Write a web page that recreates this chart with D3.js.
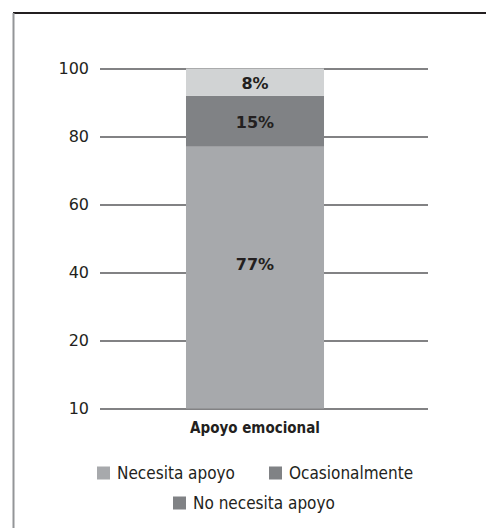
<!DOCTYPE html>
<html><head><meta charset="utf-8">
<script src="https://cdn.jsdelivr.net/npm/d3@7"></script>
<style>body{margin:0;background:#fff}svg{display:block}</style>
</head><body><svg id="c" width="486" height="528"></svg>
<script>
const categories = ["Apoyo emocional"];
const seriesNames = ["Necesita apoyo", "Ocasionalmente", "No necesita apoyo"];
const necesita = [77];
const ocasional = [15];
const noNecesita = [8];
const tickValues = [0, 20, 40, 60, 80, 100];
const tickLabels = ["10", "20", "40", "60", "80", "100"];
const segColors = ["#a7a9ac", "#808285", "#d1d3d4"];
const legendColors = ["#a7a9ac", "#808285", "#808285"];

const svg = d3.select("#c");
const txt = "#231f20";
const fontR = "'DejaVu Sans', sans-serif";
const fontN = "'DejaVu Sans Condensed', 'Liberation Sans Narrow', sans-serif";

svg.append("line").attr("x1",13).attr("x2",486).attr("y1",13).attr("y2",13).attr("stroke","#231f20").attr("stroke-width",2);
svg.append("line").attr("x1",13.5).attr("x2",13.5).attr("y1",13).attr("y2",528).attr("stroke","#939598").attr("stroke-width",2);

const y = d3.scaleLinear().domain([0,100]).range([408.5,68.5]);
const x = d3.scaleBand().domain(categories).range([100,410]).paddingInner(0).paddingOuter(0.623);

const ax = d3.axisLeft(y).tickValues(tickValues).tickSize(-328).tickPadding(11)
  .tickFormat((d,i)=>tickLabels[i]);
const g = svg.append("g").attr("transform","translate(100,0)").call(ax);
g.select(".domain").remove();
g.selectAll(".tick line").attr("stroke","#58595b").attr("stroke-width",1.5);
g.selectAll(".tick text").attr("fill",txt).style("font-family",fontR).style("font-size","16px");

const labelShift = [-13, 1, 1];
const rows = categories.map((c,i)=>({cat:c, a:necesita[i], b:ocasional[i], c:noNecesita[i]}));
const stack = d3.stack().keys(["a","b","c"])(rows);
stack.forEach((s,si)=>{
  svg.append("g").selectAll("rect").data(s).join("rect")
    .attr("x",d=>x(d.data.cat)).attr("width",x.bandwidth())
    .attr("y",d=>y(d[1])).attr("height",d=>y(d[0])-y(d[1]))
    .attr("fill",segColors[si]);
  svg.append("g").selectAll("text").data(s).join("text")
    .attr("x",d=>x(d.data.cat)+x.bandwidth()/2)
    .attr("y",d=>(y(d[0])+y(d[1]))/2 + labelShift[si])
    .attr("dy","0.35em").attr("text-anchor","middle")
    .attr("fill",txt).style("font-family",fontR).style("font-weight","bold").style("font-size","16px")
    .text(d=>Math.round(d[1]-d[0])+"%");
});

svg.append("g").selectAll("text").data(categories).join("text")
  .attr("x",d=>x(d)+x.bandwidth()/2).attr("y",428).attr("dy","0.35em").attr("text-anchor","middle")
  .attr("fill",txt).style("font-family",fontN).style("font-weight","bold").style("font-size","15px")
  .text(d=>d);

const legPos = [[97,473],[269,473],[173,503]];
seriesNames.forEach((n,i)=>{
  const [lx,ly] = legPos[i];
  svg.append("rect").attr("x",lx).attr("y",ly-6.5).attr("width",13).attr("height",13).attr("fill",legendColors[i]);
  svg.append("text").attr("x",lx+20).attr("y",ly).attr("dy","0.35em")
    .attr("fill",txt).style("font-family",fontN).style("font-size","17px").text(n);
});
</script></body></html>
